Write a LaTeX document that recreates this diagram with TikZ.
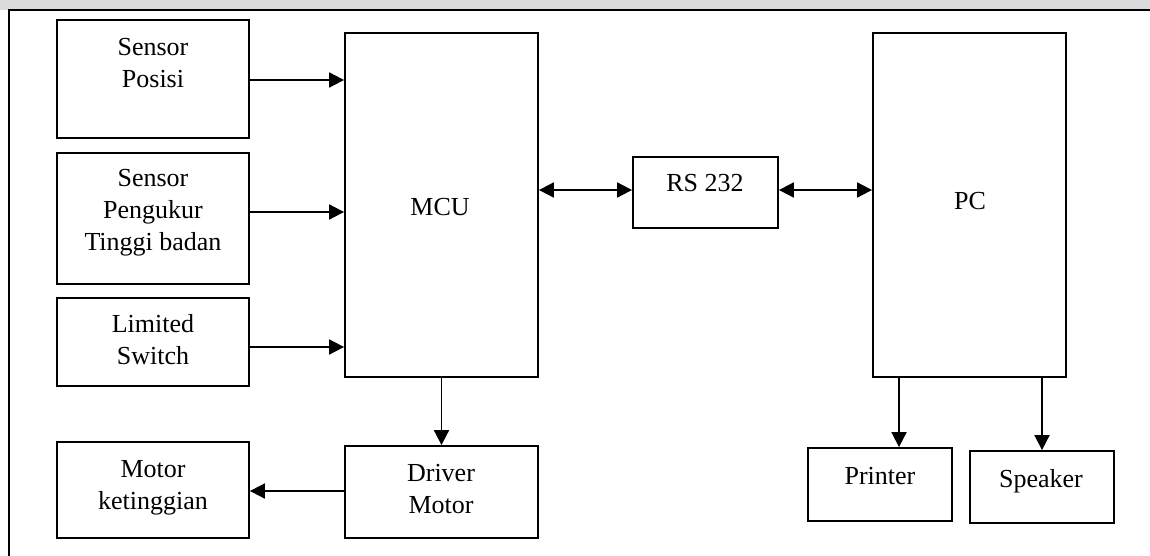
\documentclass[tikz,border=0pt]{standalone}
\usepackage{fontspec}
\setmainfont{Liberation Serif}
\usetikzlibrary{arrows.meta}
\begin{document}
\begin{tikzpicture}[x=1pt,y=-1pt,
  box/.style={draw, line width=1.8pt, rectangle, inner sep=0pt},
  txt/.style={align=center, inner sep=0pt, font=\fontsize{26}{32}\selectfont},
  arr/.style={line width=1.8pt, -{Triangle[length=15pt,width=15pt]}},
  biarr/.style={line width=1.8pt, {Triangle[length=15pt,width=15pt]}-{Triangle[length=15pt,width=15pt]}}
]
\useasboundingbox (0,0) rectangle (1150,556);
\begin{scope}
\clip (0,0) rectangle (1150,556);
\fill[black!14] (0,0) rectangle (1150,10);
\draw[line width=1.8pt] (9,560) -- (9,10) -- (1160,10);
\end{scope}
% boxes: width/height from pixel extents
\node[box, minimum width=192pt, minimum height=118pt] (sp) at (153,79) {};
\node[box, minimum width=192pt, minimum height=131pt] (spt) at (153,218.5) {};
\node[box, minimum width=192pt, minimum height=88pt] (ls) at (153,342) {};
\node[box, minimum width=192pt, minimum height=96pt] (mk) at (153,490) {};
\node[box, minimum width=193pt, minimum height=344pt] (mcu) at (441.5,205) {};
\node[box, minimum width=193pt, minimum height=92pt] (dm) at (441.5,492) {};
\node[box, minimum width=145pt, minimum height=71pt] (rs) at (705.5,192.5) {};
\node[box, minimum width=193pt, minimum height=344pt] (pc) at (969.5,205) {};
\node[box, minimum width=144pt, minimum height=73pt] (pr) at (880,484.5) {};
\node[box, minimum width=144pt, minimum height=72pt] (spk) at (1042,487) {};
% texts
\node[txt] (tsp) at (153,63) {Sensor\\Posisi};
\node[txt] (tspt) at (153,213) {Sensor\\Pengukur\\Tinggi badan};
\node[txt] (tls) at (153,340) {Limited\\Switch};
\node[txt] (tmk) at (153,488) {Motor\\ketinggian};
\node[txt] (tmcu) at (440,207) {MCU};
\node[txt] (tdm) at (441,489) {Driver\\Motor};
\node[txt] (trs) at (705,183) {RS 232};
\node[txt] (tpc) at (970,201) {PC};
\node[txt] (tpr) at (880,476) {Printer};
\node[txt] (tspk) at (1041,481) {Speaker};
% connectors
\draw[arr] ([yshift=-1pt]sp.east) -- ([yshift=-1pt]sp.east -| mcu.west);
\draw[arr] ([yshift=6.5pt]spt.east) -- ([yshift=6.5pt]spt.east -| mcu.west);
\draw[arr] ([yshift=-5pt]ls.east) -- ([yshift=-5pt]ls.east -| mcu.west);
\draw[biarr] ([yshift=2.5pt]rs.west -| mcu.east) -- ([yshift=2.5pt]rs.west);
\draw[biarr] ([yshift=2.5pt]rs.east) -- ([yshift=2.5pt]rs.east -| pc.west);
\draw[arr] (mcu.south) -- (dm.north);
\draw[arr] ([yshift=1pt]dm.west) -- ([yshift=1pt]dm.west -| mk.east);
\draw[arr] ([xshift=19pt]pr.north |- pc.south) -- ([xshift=19pt]pr.north);
\draw[arr] (spk.north |- pc.south) -- (spk.north);
\end{tikzpicture}
\end{document}
